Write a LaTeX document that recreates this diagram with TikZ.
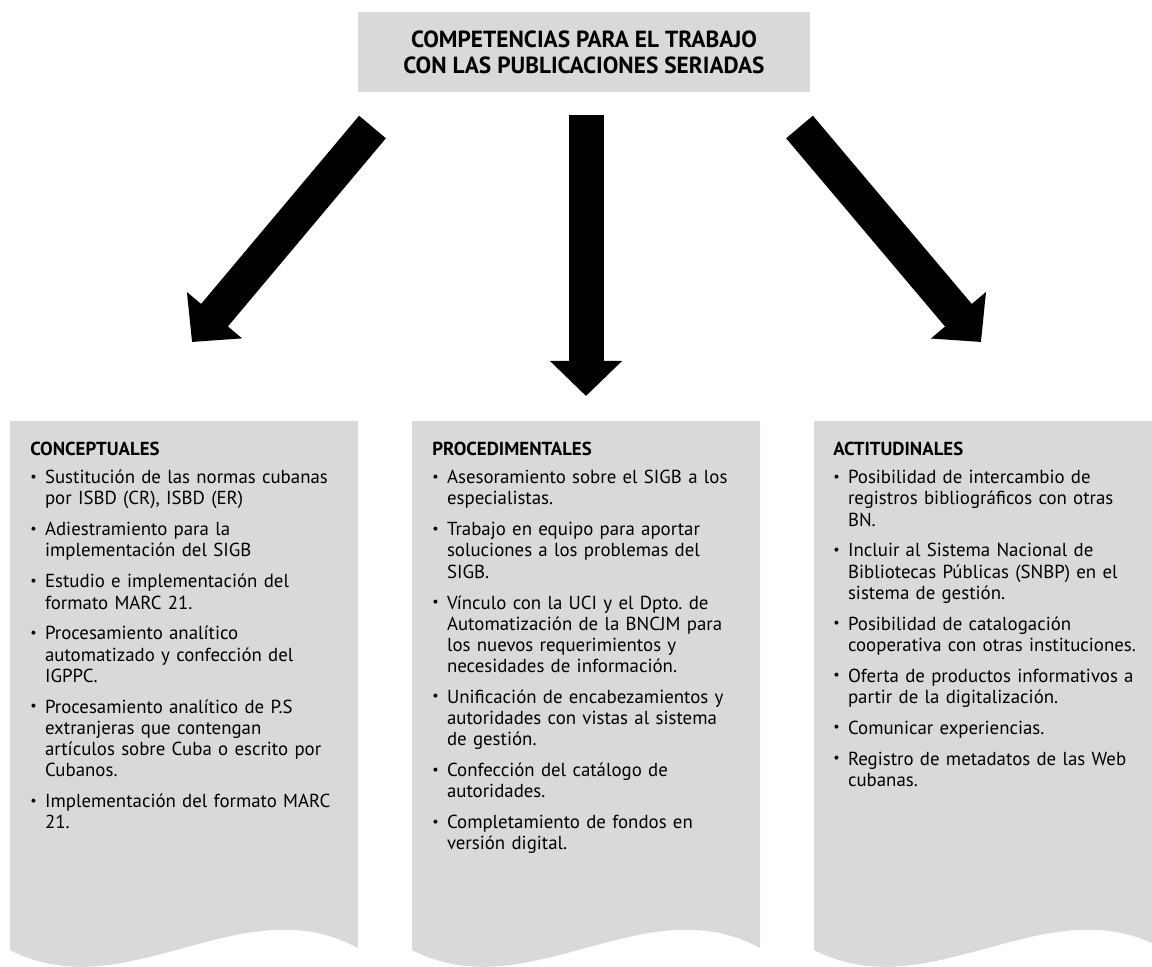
\documentclass[tikz,border=0pt]{standalone}
\usepackage{fontspec}
\setmainfont{PT Sans}
\frenchspacing
\usetikzlibrary{arrows.meta}

\definecolor{boxgray}{RGB}{217,217,217}

% one bullet point of a box
\newcommand{\bpoint}[2][7pt]{\par\vspace{#1}\hangindent=10.5pt\hangafter=1\noindent\makebox[10.5pt][l]{\raisebox{0.12em}{\scalebox{0.75}{\textbullet}}}{\let\\\newline #2}\par}

\begin{document}
\begin{tikzpicture}[x=0.025cm,y=-0.025cm,
    titlebox/.style={fill=boxgray,minimum width=11.3cm,minimum height=2cm,align=center,
      font=\fontsize{16.6}{18.6}\selectfont\bfseries},
    listtext/.style={anchor=north west,inner sep=0pt,text width=8.1cm,align=left,
      font=\fontsize{13.4}{15}\selectfont},
    blockarrow/.style={line width=0.875cm,-{Triangle[width=1.75cm,length=0.875cm]}}]

\useasboundingbox (0,0) rectangle (1152,967);

% title node
\node[titlebox] (title) at (584,52) {COMPETENCIAS PARA EL TRABAJO\\CON LAS PUBLICACIONES SERIADAS};

% arrow ends
\coordinate (left start) at (372.5,127);
\coordinate (left end) at (192,342);
\coordinate (mid start) at (586,115);
\coordinate (mid end) at (586,396);
\coordinate (right start) at (799.5,127);
\coordinate (right end) at (981,342);

\draw[blockarrow] (left start) -- (left end);
\draw[blockarrow] (mid start) -- (mid end);
\draw[blockarrow] (right start) -- (right end);

% gray sheets with wavy bottoms
\begin{scope}
\clip (0,0) rectangle (1152,967);
\fill[boxgray] (10,421) -- (358,421) -- (358,948) .. controls (242,885) and (126,1010) .. (10,950) -- cycle;
\fill[boxgray] (412,421) -- (760,421) -- (760,948) .. controls (644,885) and (528,1010) .. (412,950) -- cycle;
\fill[boxgray] (814,421) -- (1162,421) -- (1162,948) .. controls (1046,885) and (930,1010) .. (814,950) -- cycle;
\end{scope}

% conceptuales node
\node[listtext] (conceptual) at (30,442) {\textbf{CONCEPTUALES}
\bpoint[5pt]{Sustitución de las normas cubanas\\por ISBD (CR), ISBD (ER)}
\bpoint{Adiestramiento para la\\implementación del SIGB}
\bpoint{Estudio e implementación del\\formato MARC 21.}
\bpoint{Procesamiento analítico\\automatizado y confección del\\IGPPC.}
\bpoint{Procesamiento analítico de P.S\\extranjeras que contengan\\artículos sobre Cuba o escrito por\\Cubanos.}
\bpoint{Implementación del formato MARC\\21.}};

% procedimentales node
\node[listtext] (procedural) at (432,442) {\textbf{PROCEDIMENTALES}
\bpoint[5pt]{Asesoramiento sobre el SIGB a los\\especialistas.}
\bpoint{Trabajo en equipo para aportar\\soluciones a los problemas del\\SIGB.}
\bpoint{Vínculo con la UCI y el Dpto. de\\Automatización de la BNCJM para\\los nuevos requerimientos y\\necesidades de información.}
\bpoint{Unificación de encabezamientos y\\autoridades con vistas al sistema\\de gestión.}
\bpoint{Confección del catálogo de\\autoridades.}
\bpoint{Completamiento de fondos en\\versión digital.}};

% actitudinales node
\node[listtext] (attitudinal) at (833,442) {\textbf{ACTITUDINALES}
\bpoint[5pt]{Posibilidad de intercambio de\\registros bibliográficos con otras\\BN.}
\bpoint{Incluir al Sistema Nacional de\\Bibliotecas Públicas (SNBP) en el\\sistema de gestión.}
\bpoint{Posibilidad de catalogación\\cooperativa con otras instituciones.}
\bpoint{Oferta de productos informativos a\\partir de la digitalización.}
\bpoint{Comunicar experiencias.}
\bpoint{Registro de metadatos de las Web\\cubanas.}};

\end{tikzpicture}
\end{document}
